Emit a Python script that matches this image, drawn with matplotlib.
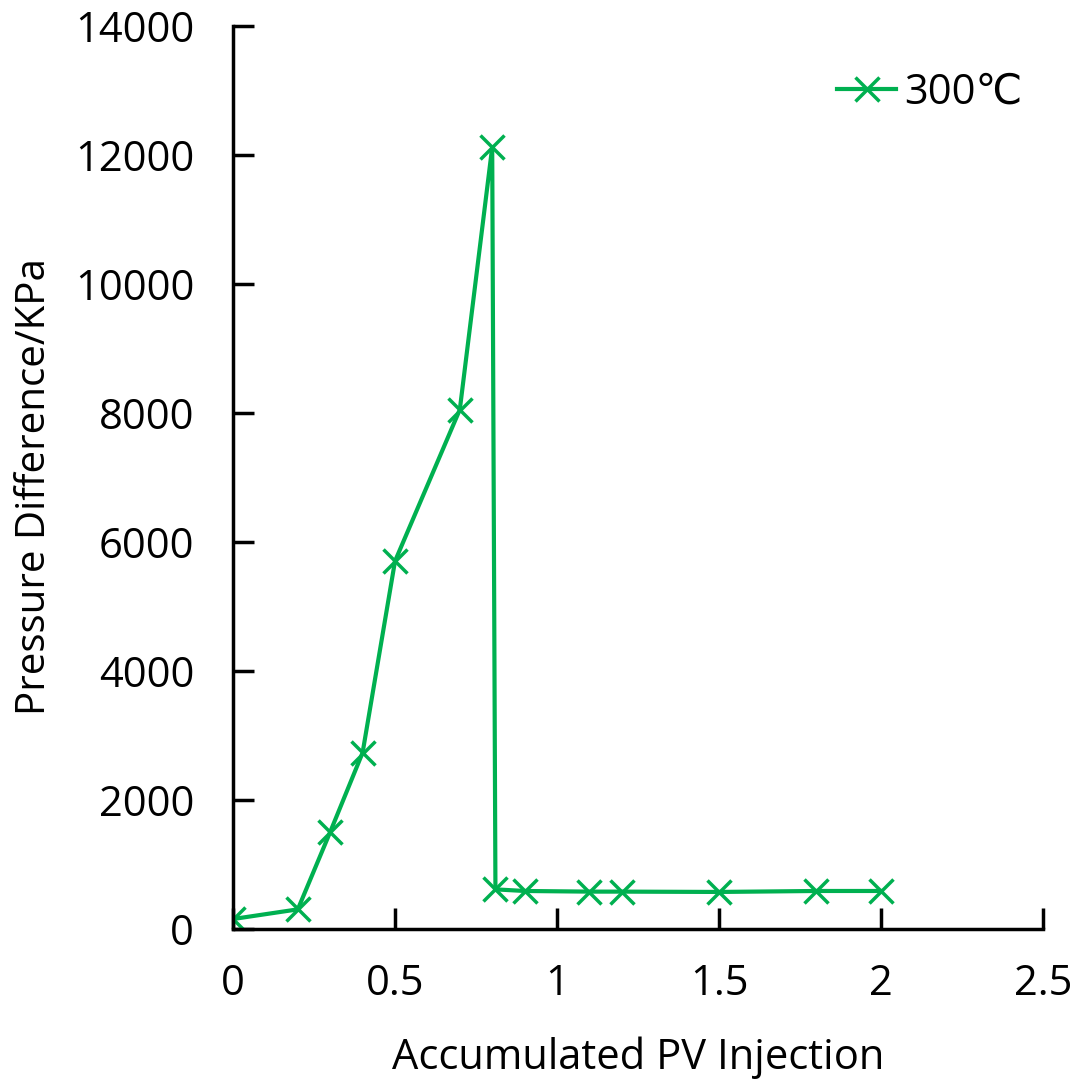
import matplotlib
matplotlib.use("Agg")
import matplotlib.pyplot as plt

x_pv = [0, 0.2, 0.3, 0.4, 0.5, 0.7, 0.8, 0.81, 0.9, 1.1, 1.2, 1.5, 1.8, 2.0]
dp_kpa = [150, 300, 1500, 2730, 5700, 8050, 12120, 610, 585, 575, 575, 570, 585, 585]
series_label = "300℃"
xticks = [0, 0.5, 1, 1.5, 2, 2.5]
xtick_labels = ["0", "0.5", "1", "1.5", "2", "2.5"]
yticks = [0, 2000, 4000, 6000, 8000, 10000, 12000, 14000]

plt.rcParams['font.family'] = ['Open Sans', 'DejaVu Sans']
green = '#00B050'

fig = plt.figure(figsize=(10.89, 10.82), dpi=100)
ax = fig.add_axes([233/1089, 1 - 928.7/1082, (1043-233)/1089, (928.7-26)/1082])

ax.plot(x_pv, dp_kpa, color=green, lw=3, marker='x', ms=17, mew=2.5, label=series_label)

ax.set_xlim(0, 2.5)
ax.set_ylim(0, 14000)
ax.set_xticks(xticks)
ax.set_xticklabels(xtick_labels)
ax.set_yticks(yticks)
for s in ['top', 'right']:
    ax.spines[s].set_visible(False)
for s in ['left', 'bottom']:
    ax.spines[s].set_linewidth(2.5)
ax.tick_params(direction='in', length=15, width=2.5, labelsize=30)
ax.tick_params(axis='x', pad=25)
ax.tick_params(axis='y', pad=28)

ax.set_xlabel("Accumulated PV Injection", fontsize=30, va='center')
ax.set_ylabel("Pressure Difference/KPa", fontsize=29, va='center')
ax.xaxis.set_label_coords(0.5, (928.7 - 1058) / 902.7)
ax.yaxis.set_label_coords((35 - 233) / 810, 0.49)

leg = ax.legend(loc='upper right', frameon=False, fontsize=30, handlelength=1.4,
                handletextpad=0.2, borderaxespad=0.0, bbox_to_anchor=(0.995, 0.968))

fig.savefig("out.png", dpi=100)
